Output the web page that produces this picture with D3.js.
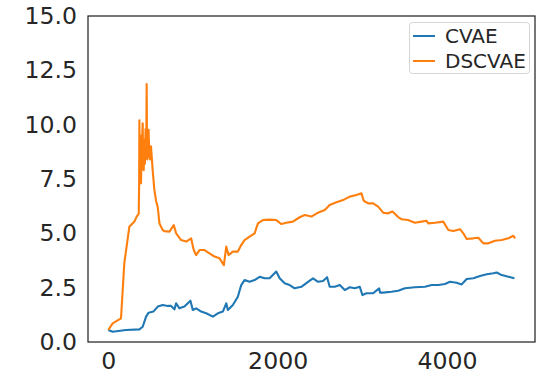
<!DOCTYPE html>
<html>
<head>
<meta charset="utf-8">
<script src="https://cdn.jsdelivr.net/npm/d3@7"></script>
<style>
  body { margin: 0; background: #fff; }
  text { font-family: "DejaVu Sans", sans-serif; fill: #262626; }
</style>
</head>
<body>
<div id="myChart"></div>
<script>
let width = 541;
let height = 383;

// series
var cvaeX = [0, 51, 209, 367, 406, 446, 476, 532, 584, 643, 702, 742, 781, 801, 840, 899, 970, 998, 1037, 1097, 1156, 1235, 1294, 1353, 1393, 1412, 1471, 1530, 1570, 1609, 1669, 1728, 1787, 1846, 1905, 1984, 2024, 2083, 2142, 2201, 2280, 2359, 2418, 2477, 2536, 2584, 2615, 2675, 2734, 2793, 2852, 2911, 2970, 3002, 3049, 3128, 3199, 3210, 3246, 3345, 3424, 3503, 3621, 3740, 3819, 3898, 3976, 4036, 4114, 4174, 4233, 4312, 4391, 4470, 4548, 4588, 4647, 4726, 4797];
var cvaeY = [0.55, 0.47, 0.55, 0.58, 0.7, 1.17, 1.35, 1.4, 1.63, 1.7, 1.66, 1.66, 1.5, 1.78, 1.55, 1.63, 1.9, 1.47, 1.55, 1.4, 1.32, 1.17, 1.32, 1.4, 1.78, 1.47, 1.7, 2.08, 2.62, 2.85, 2.77, 2.85, 3.0, 2.93, 2.93, 3.24, 2.93, 2.7, 2.62, 2.47, 2.54, 2.77, 2.93, 2.77, 2.81, 2.98, 2.54, 2.54, 2.62, 2.39, 2.52, 2.47, 2.54, 2.16, 2.24, 2.24, 2.47, 2.27, 2.27, 2.31, 2.36, 2.47, 2.52, 2.54, 2.62, 2.62, 2.67, 2.77, 2.73, 2.65, 2.9, 2.93, 3.04, 3.12, 3.16, 3.2, 3.08, 3.0, 2.93];

var dscvaeX = [0, 51, 150, 189, 248, 308, 335, 359, 364, 367, 372, 378, 386, 395, 406, 412, 418, 425, 432, 440, 447, 453, 458, 466, 476, 484, 492, 504, 515, 524, 544, 564, 584, 604, 623, 643, 663, 722, 773, 801, 860, 919, 978, 1009, 1037, 1077, 1136, 1195, 1254, 1314, 1365, 1393, 1420, 1471, 1530, 1570, 1609, 1669, 1728, 1767, 1826, 1905, 1984, 2043, 2103, 2181, 2260, 2320, 2399, 2477, 2556, 2615, 2694, 2773, 2852, 2931, 2990, 3017, 3069, 3128, 3187, 3246, 3305, 3357, 3424, 3462, 3541, 3621, 3700, 3759, 3779, 3858, 3956, 4016, 4075, 4154, 4193, 4233, 4312, 4371, 4430, 4489, 4568, 4647, 4726, 4785, 4805];
var dscvaeY = [0.55, 0.86, 1.09, 3.63, 5.3, 5.54, 5.77, 5.9, 7.2, 10.2, 7.6, 9.5, 7.3, 9.0, 10.06, 8.0, 7.9, 9.3, 8.2, 9.8, 8.6, 11.87, 8.4, 9.3, 9.76, 8.5, 8.4, 9.0, 8.4, 7.9, 7.0, 6.5, 6.2, 5.46, 5.3, 5.15, 5.1, 5.08, 5.38, 5.0, 4.69, 4.62, 4.77, 4.23, 4.0, 4.23, 4.23, 4.08, 3.93, 3.85, 3.54, 4.39, 4.0, 4.16, 4.16, 4.46, 4.69, 4.85, 5.0, 5.46, 5.61, 5.63, 5.61, 5.43, 5.49, 5.54, 5.74, 5.84, 5.77, 5.95, 6.07, 6.3, 6.43, 6.53, 6.69, 6.76, 6.84, 6.5, 6.38, 6.38, 6.23, 5.95, 5.92, 6.0, 5.75, 5.65, 5.61, 5.49, 5.54, 5.58, 5.46, 5.49, 5.54, 5.15, 5.11, 5.19, 5.0, 4.74, 4.77, 4.8, 4.54, 4.54, 4.66, 4.69, 4.77, 4.89, 4.77];

var xTicks = [0, 2000, 4000];
var yTicks = [0, 2.5, 5, 7.5, 10, 12.5, 15];
var seriesNames = ["CVAE", "DSCVAE"];
var seriesColors = ["#1f77b4", "#ff7f0e"];

let svg = d3.select("#myChart").append("svg")
  .attr("width", width)
  .attr("height", height);

// plot area (note: "top" would clash with window.top)
var plotLeft = 88, plotRight = 535, plotTop = 16, plotBottom = 342;

var x = d3.scaleLinear().domain([-240, 5040]).range([plotLeft, plotRight]);
var y = d3.scaleLinear().domain([0, 15]).range([plotBottom, plotTop]);

// axes (no tick marks, seaborn white style)
var xAxis = svg.append("g")
  .attr("transform", "translate(0," + plotBottom + ")")
  .call(d3.axisBottom(x).tickValues(xTicks).tickSize(0).tickPadding(10).tickFormat(d3.format("d")));
var yAxis = svg.append("g")
  .attr("transform", "translate(" + plotLeft + ",0)")
  .call(d3.axisLeft(y).tickValues(yTicks).tickSize(0).tickPadding(11).tickFormat(d3.format(".1f")));
[xAxis, yAxis].forEach(function (g) {
  g.select(".domain").remove();
  g.selectAll("text").style("font-family", "DejaVu Sans").style("font-size", "23.6px").attr("fill", "#262626");
});

// lines
var series = [
  cvaeX.map(function (d, i) { return [d, cvaeY[i]]; }),
  dscvaeX.map(function (d, i) { return [d, dscvaeY[i]]; })
];
var line = d3.line()
  .x(function (d) { return x(d[0]); })
  .y(function (d) { return y(d[1]); });

svg.append("g")
  .selectAll("path")
  .data(series)
  .enter()
  .append("path")
  .attr("d", line)
  .attr("fill", "none")
  .attr("stroke", function (d, i) { return seriesColors[i]; })
  .attr("stroke-width", 2.1)
  .attr("stroke-linejoin", "round");

// frame
svg.append("rect")
  .attr("x", plotLeft).attr("y", plotTop)
  .attr("width", plotRight - plotLeft).attr("height", plotBottom - plotTop)
  .attr("fill", "none")
  .attr("stroke", "#262626")
  .attr("stroke-width", 1.25);

// legend
var legend = svg.append("g");
legend.append("rect")
  .attr("x", 409.5).attr("y", 22.5)
  .attr("width", 120).attr("height", 51)
  .attr("rx", 3)
  .attr("fill", "#fff")
  .attr("fill-opacity", 0.8)
  .attr("stroke", "#d6d6d6");
seriesNames.forEach(function (name, i) {
  var cy = 36 + i * 25;
  legend.append("line")
    .attr("x1", 413).attr("x2", 435)
    .attr("y1", cy).attr("y2", cy)
    .attr("stroke", seriesColors[i])
    .attr("stroke-width", 2);
  legend.append("text")
    .attr("x", 445).attr("y", cy)
    .attr("dy", "0.36em")
    .style("font-size", "20px")
    .text(name);
});
</script>
</body>
</html>
